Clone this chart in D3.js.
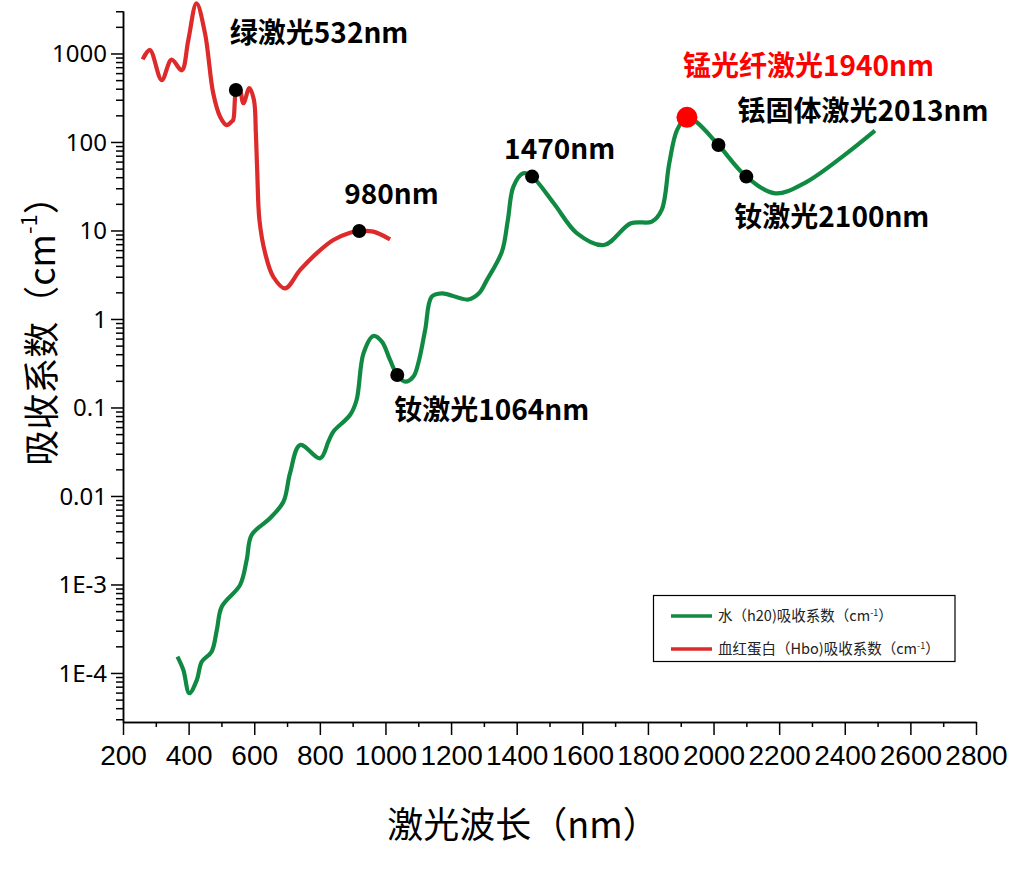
<!DOCTYPE html>
<html><head><meta charset="utf-8">
<script src="https://cdn.jsdelivr.net/npm/d3@7"></script>
<style>body{margin:0;background:#fff} svg{display:block}</style>
</head><body>
<svg id="chart" width="1016" height="869"></svg>
<script>
// ---- data ----
const waterX = [366, 384, 402, 425, 440, 470, 486, 501, 557, 577, 592, 648, 689, 709, 740, 801, 826, 841, 892, 912, 933, 963, 989, 1014, 1036, 1060, 1085, 1100, 1121, 1141, 1172, 1253, 1285, 1309, 1355, 1373, 1390, 1420, 1447, 1513, 1584, 1666, 1748, 1812, 1842, 1865, 1889, 1919, 1947, 2015, 2100, 2188, 2276, 2393, 2492];
const waterY = [1.53e-4, 1.08e-4, 5.9e-5, 8.3e-5, 1.34e-4, 1.74e-4, 3.06e-4, 5.6e-4, 9.9e-4, 1.89e-3, 3.62e-3, 5.6e-3, 8.6e-3, 0.018, 0.0377, 0.0267, 0.0411, 0.0533, 0.0822, 0.1216, 0.409, 0.643, 0.555, 0.344, 0.233, 0.196, 0.223, 0.316, 0.75, 1.79, 1.95, 1.66, 1.95, 2.75, 5.77, 13.1, 31.3, 44.3, 40.6, 20.3, 9.29, 6.85, 12.05, 12.6, 17.1, 57.4, 137, 190, 169, 92.5, 40.6, 26.3, 34.1, 68.2, 134];

const hbX = [260, 282, 318, 348, 379, 399, 424, 450, 475, 496, 516, 531, 536, 541, 544, 554, 567, 585, 599, 605, 609, 616, 633, 658, 694, 740, 790, 841, 892, 920, 963, 1014];
const hbY = [859, 1096, 501, 851, 646, 1413, 3690, 1690, 355, 193, 155, 170, 178, 299, 387, 417, 274, 405, 299, 125, 48, 13, 5.6, 3.0, 2.22, 3.58, 5.52, 7.8, 9.44, 9.86, 9.7, 7.94];

const markerX = [544, 920, 1036, 1447, 2015, 2100];
const markerY = [387, 9.86, 0.233, 40.6, 92.5, 40.6];
const hotMarkerX = [1919];
const hotMarkerY = [190];

const labelText = ["绿激光532nm", "980nm", "钕激光1064nm", "1470nm", "铥固体激光2013nm", "钕激光2100nm"];
const hotLabelText = ["锰光纤激光1940nm"];

const xTickValues = [200, 400, 600, 800, 1000, 1200, 1400, 1600, 1800, 2000, 2200, 2400, 2600, 2800];
const xMinorValues = [300, 500, 700, 900, 1100, 1300, 1500, 1700, 1900, 2100, 2300, 2500, 2700];
const yTickValues = [1e-4, 1e-3, 0.01, 0.1, 1, 10, 100, 1000];
const yTickLabels = ["1E-4", "1E-3", "0.01", "0.1", "1", "10", "100", "1000"];

const legendText = ["水（h20)吸收系数（cm", "血红蛋白（Hbo)吸收系数（cm"];

// ---- drawing ----
const svg = d3.select("#chart");
const green = "#108a42", red = "#dd2a2a";
const CJK = "'Noto Sans CJK SC','Noto Sans',sans-serif";

const x = d3.scaleLinear().domain([200, 2800]).range([123, 976]);
const y = d3.scaleLog().domain([Math.pow(10, -4.554), Math.pow(10, 3.48)]).range([722, 11]);

// y minor ticks
const yMinor = [];
for (let e = -5; e <= 3; e++) for (let m = 2; m <= 9; m++) {
  const v = m * Math.pow(10, e);
  if (v >= y.domain()[0] && v <= y.domain()[1]) yMinor.push(v);
}

svg.append("g").attr("transform", "translate(123,0)")
  .call(d3.axisLeft(y).tickValues(yMinor).tickSize(7).tickSizeOuter(0).tickFormat(""));
const yAxis = svg.append("g").attr("transform", "translate(123,0)")
  .call(d3.axisLeft(y).tickValues(yTickValues).tickSize(12).tickSizeOuter(0)
    .tickFormat((d, i) => yTickLabels[i]));
yAxis.selectAll("text").attr("font-family", "'Noto Sans','Open Sans',sans-serif")
  .attr("font-size", 24).attr("fill", "#000").attr("x", -16).attr("dy", "0.34em");

svg.append("g").attr("transform", "translate(0,722)")
  .call(d3.axisBottom(x).tickValues(xMinorValues).tickSize(5).tickSizeOuter(0).tickFormat(""));
const xAxis = svg.append("g").attr("transform", "translate(0,722)")
  .call(d3.axisBottom(x).tickValues(xTickValues).tickSize(13).tickSizeOuter(0).tickFormat(d3.format("d")));
xAxis.selectAll("text").attr("font-family", "'Liberation Sans Narrow','Liberation Sans',sans-serif")
  .attr("font-size", 28).attr("fill", "#000").attr("y", 43).attr("dy", 0);

svg.selectAll(".domain, .tick line").attr("stroke", "#000").attr("stroke-width", 1.5);

// axis titles
const yt = svg.append("text")
  .attr("transform", "translate(39,322) rotate(-90)")
  .attr("text-anchor", "middle").attr("dominant-baseline", "central")
  .attr("font-family", CJK).attr("font-size", 36).attr("fill", "#000");
yt.append("tspan").text("吸收系数（cm");
yt.append("tspan").attr("font-size", 22).attr("dy", -12).text("-1");
yt.append("tspan").attr("dy", 12).text("）");

svg.append("text").attr("x", 523).attr("y", 838).attr("text-anchor", "middle")
  .attr("font-family", CJK).attr("font-size", 36).attr("fill", "#000")
  .text("激光波长（nm）");

// lines
const line = d3.line().x(d => x(d[0])).y(d => y(d[1])).curve(d3.curveCatmullRom.alpha(0.5));
svg.append("path").datum(d3.zip(hbX, hbY)).attr("d", line)
  .attr("fill", "none").attr("stroke", red).attr("stroke-width", 4.2).attr("stroke-linejoin", "round");
svg.append("path").datum(d3.zip(waterX, waterY)).attr("d", line)
  .attr("fill", "none").attr("stroke", green).attr("stroke-width", 4.2).attr("stroke-linejoin", "round");

// markers
svg.selectAll("circle.m").data(d3.zip(markerX, markerY)).join("circle")
  .attr("class", "m").attr("cx", d => x(d[0])).attr("cy", d => y(d[1])).attr("r", 7).attr("fill", "#000");
svg.selectAll("circle.h").data(d3.zip(hotMarkerX, hotMarkerY)).join("circle")
  .attr("class", "h").attr("cx", d => x(d[0])).attr("cy", d => y(d[1])).attr("r", 10.5).attr("fill", "#ff0000");

// annotation labels (anchored relative to the markers)
const labelOffsets = [[-6, -47], [-15, -27], [-3, 45], [-28, -18], [19, -24], [-12, 50]];
svg.selectAll("text.lab").data(labelText).join("text").attr("class", "lab")
  .attr("x", (d, i) => x(markerX[i]) + labelOffsets[i][0])
  .attr("y", (d, i) => y(markerY[i]) + labelOffsets[i][1])
  .attr("font-family", CJK).attr("font-weight", "bold").attr("font-size", 28).attr("fill", "#000")
  .text(d => d);
svg.selectAll("text.hot").data(hotLabelText).join("text").attr("class", "hot")
  .attr("x", (d, i) => x(hotMarkerX[i]) - 4)
  .attr("y", (d, i) => y(hotMarkerY[i]) - 41)
  .attr("font-family", CJK).attr("font-weight", "bold").attr("font-size", 28).attr("fill", "#ff0000")
  .text(d => d);

// legend
const lg = svg.append("g");
lg.append("rect").attr("x", 653.5).attr("y", 595.5).attr("width", 301.5).attr("height", 66)
  .attr("fill", "#fff").attr("stroke", "#000").attr("stroke-width", 1.2);
const legColors = [green, red];
legendText.forEach((t, i) => {
  const cy = 616 + i * 33;
  lg.append("line").attr("x1", 671).attr("x2", 712).attr("y1", cy).attr("y2", cy)
    .attr("stroke", legColors[i]).attr("stroke-width", 3.5);
  const tx = lg.append("text").attr("x", 718).attr("y", cy + 5)
    .attr("font-family", CJK).attr("font-size", 14.5).attr("fill", "#222");
  tx.append("tspan").text(t);
  tx.append("tspan").attr("font-size", 9).attr("dy", -5).text("-1");
  tx.append("tspan").attr("dy", 5).text("）");
});
</script>
</body></html>
